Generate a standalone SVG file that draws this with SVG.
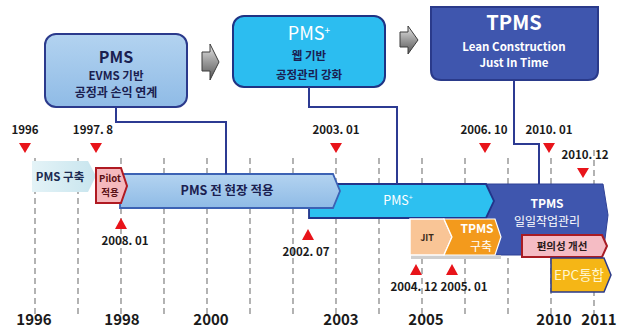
<svg xmlns="http://www.w3.org/2000/svg" width="621" height="329" viewBox="0 0 621 329">
<defs>
<linearGradient id="gArrow" x1="0" y1="0" x2="0" y2="1">
<stop offset="0" stop-color="#e6e6e6"/><stop offset="0.5" stop-color="#9a9a9a"/><stop offset="1" stop-color="#555"/>
</linearGradient>
<linearGradient id="gPms" x1="0" y1="0" x2="0" y2="1">
<stop offset="0" stop-color="#b3d3f0"/><stop offset="1" stop-color="#8fbbe6"/>
</linearGradient>
<linearGradient id="gBuild" x1="0" y1="0" x2="1" y2="0">
<stop offset="0" stop-color="#e4f3f7"/><stop offset="1" stop-color="#c8e5ee"/>
</linearGradient>
</defs>
<style>
text{font-family:"Noto Sans CJK KR","Noto Sans",sans-serif;text-anchor:middle}
.dash{stroke:#8a8a8a;stroke-width:1.3;stroke-dasharray:6 4;fill:none}
.conn{stroke:#2c3a92;stroke-width:2;fill:none}
.tri{fill:#e8141a}
.lbl{font-size:11.5px;font-weight:bold;fill:#1a1a1a}
.yr{font-size:15px;font-weight:bold;fill:#1a1a1a}
.garrow{fill:url(#gArrow);stroke:#3c3c3c;stroke-width:1}
</style>
<rect width="621" height="329" fill="#ffffff"/>

<g id="gridlines">
<line class="dash" x1="35" y1="158" x2="35" y2="315"/>
<line class="dash" x1="78" y1="158" x2="78" y2="315"/>
<line class="dash" x1="121" y1="158" x2="121" y2="315"/>
<line class="dash" x1="164" y1="158" x2="164" y2="315"/>
<line class="dash" x1="207" y1="158" x2="207" y2="315"/>
<line class="dash" x1="250" y1="158" x2="250" y2="315"/>
<line class="dash" x1="293" y1="158" x2="293" y2="315"/>
<line class="dash" x1="336" y1="158" x2="336" y2="315"/>
<line class="dash" x1="379" y1="158" x2="379" y2="315"/>
<line class="dash" x1="422" y1="158" x2="422" y2="315"/>
<line class="dash" x1="465" y1="158" x2="465" y2="315"/>
<line class="dash" x1="508" y1="158" x2="508" y2="315"/>
<line class="dash" x1="551" y1="158" x2="551" y2="315"/>
<line class="dash" x1="594" y1="150" x2="594" y2="315"/>
</g>

<g id="box-pms">
<rect x="45" y="34" width="142" height="73" rx="11" fill="url(#gPms)" stroke="#2b3a8c" stroke-width="2"/>
<text x="116" y="63" font-size="16" font-weight="bold" fill="#1a2050">PMS</text>
<text x="116" y="80" font-size="11.5" font-weight="bold" fill="#1a2050">EVMS 기반</text>
<text x="116" y="97" font-size="12" font-weight="bold" fill="#1a2050">공정과 손익 연계</text>
</g>

<g id="arrow-1"><polygon class="garrow" points="202,52 210,52 210,44 219,62 210,80 210,71 202,71"/></g>

<g id="box-pmsplus">
<rect x="233" y="16" width="152" height="71" rx="11" fill="#2cbdf0" stroke="#1f3384" stroke-width="2"/>
<text x="309" y="40" font-size="18" fill="#ffffff">PMS<tspan font-size="10" dy="-6">+</tspan></text>
<text x="309" y="60" font-size="11.5" font-weight="bold" fill="#1a2050">웹 기반</text>
<text x="309" y="79" font-size="11.5" font-weight="bold" fill="#1a2050">공정관리 강화</text>
</g>

<g id="arrow-2"><polygon class="garrow" points="400,32 408,32 408,26 418,40 408,54 408,47 400,47"/></g>

<g id="box-tpms">
<path d="M431,7 H598 V70 Q598,80 588,80 H441 Q431,80 431,70 Z" fill="#3f56ae" stroke="#2a3a8a" stroke-width="2"/>
<text x="514" y="30" font-size="20" font-weight="bold" fill="#ffffff">TPMS</text>
<text x="514" y="51" font-size="11.5" font-weight="bold" fill="#ffffff">Lean Construction</text>
<text x="514" y="67" font-size="11.5" font-weight="bold" fill="#ffffff">Just In Time</text>
</g>

<g id="band-pms-build">
<polygon points="32,161 88,161 96,176 88,192 32,192" fill="url(#gBuild)"/>
<text x="60" y="181" font-size="11.5" font-weight="bold" fill="#1a2a50">PMS 구축</text>
</g>

<g id="band-tpms">
<polygon points="470,184 603,184 608,215 603,255 470,255" fill="#3f56ae" stroke="#2f4196" stroke-width="1"/>
<text x="547" y="208" font-size="12" font-weight="bold" fill="#ffffff">TPMS</text>
<text x="547" y="226" font-size="12" fill="#ffffff">일일작업관리</text>
</g>

<g id="band-pmsplus">
<polygon points="309,184 486,184 494,201 486,218 309,218" fill="#2dc0f0" stroke="#22348a" stroke-width="1.8"/>
<text x="398" y="205" font-size="12.5" fill="#ffffff">PMS<tspan font-size="7" dy="-5">+</tspan></text>
</g>

<g id="band-pms-all">
<polygon points="120,174 333,174 340,191 333,208 120,208" fill="url(#gPms)" stroke="#3c62b4" stroke-width="1.8"/>
<text x="227" y="195" font-size="12.5" font-weight="bold" fill="#1a2050">PMS 전 현장 적용</text>
</g>

<g id="band-pilot">
<polygon points="96,168 121,168 127,186 121,203 96,203" fill="#f5b8bd" stroke="#b01a22" stroke-width="2"/>
<text x="110" y="182" font-size="9.5" font-weight="bold" fill="#5a1015">Pilot</text>
<text x="110" y="196" font-size="9.5" font-weight="bold" fill="#5a1015">적용</text>
</g>

<g id="band-jit">
<rect x="411" y="255" width="90" height="4" fill="#cfcfcf"/>
<polygon points="410,219 444,219 452,237 444,255 410,255" fill="#f9c596" stroke="#ffffff" stroke-width="1.5"/>
<text x="427" y="241" font-size="9" font-weight="bold" fill="#3a2a1a">JIT</text>
</g>

<g id="band-tpms-build">
<polygon points="444,219 495,219 501,237 495,255 444,255 452,237" fill="#f39a1c" stroke="#ffffff" stroke-width="1.2"/>
<text x="477" y="233" font-size="12" font-weight="bold" fill="#ffffff">TPMS</text>
<text x="481" y="251" font-size="12" fill="#ffffff">구축</text>
</g>

<g id="band-convenience">
<polygon points="522,235 602,235 607,246 602,257 522,257" fill="#f5bcc4" stroke="#a81c24" stroke-width="2"/>
<text x="562" y="250" font-size="10.5" font-weight="bold" fill="#2a1a1a">편의성 개선</text>
</g>

<g id="band-epc">
<polygon points="551,258 604,258 611,275 604,292 551,292" fill="#f5b616" stroke="#2a3a8a" stroke-width="1.5"/>
<text x="579" y="280" font-size="13.5" fill="#fff6d0">EPC통합</text>
</g>

<g id="connectors">
<path class="conn" d="M116,107 V122 H226 V174"/>
<path class="conn" d="M309,87 V107 H397 V184"/>
<path class="conn" d="M514,80 V144 H539 V184"/>
</g>

<g id="markers">
<polygon class="tri" points="19,143 31,143 25,153"/>
<polygon class="tri" points="90,143 102,143 96,153"/>
<polygon class="tri" points="330,143 342,143 336,153"/>
<polygon class="tri" points="479,143 491,143 485,153"/>
<polygon class="tri" points="543,143 555,143 549,153"/>
<polygon class="tri" points="577,168 589,168 583,178"/>
<polygon class="tri" points="115,229 127,229 121,218"/>
<polygon class="tri" points="302,240 314,240 308,229"/>
<polygon class="tri" points="410,275 422,275 416,264"/>
<polygon class="tri" points="446,275 458,275 452,264"/>
</g>

<g id="date-labels">
<text class="lbl" x="25" y="134">1996</text>
<text class="lbl" x="93" y="134">1997. 8</text>
<text class="lbl" x="336" y="134">2003. 01</text>
<text class="lbl" x="484" y="134">2006. 10</text>
<text class="lbl" x="549" y="134">2010. 01</text>
<text class="lbl" x="585" y="159">2010. 12</text>
<text class="lbl" x="125" y="245">2008. 01</text>
<text class="lbl" x="306" y="256">2002. 07</text>
<text class="lbl" x="414" y="291">2004. 12</text>
<text class="lbl" x="464" y="291">2005. 01</text>
</g>

<g id="year-axis">
<text class="yr" x="34" y="325">1996</text>
<text class="yr" x="122" y="325">1998</text>
<text class="yr" x="211" y="325">2000</text>
<text class="yr" x="341" y="325">2003</text>
<text class="yr" x="426" y="325">2005</text>
<text class="yr" x="554" y="325">2010</text>
<text class="yr" x="599" y="325">2011</text>
</g>
</svg>
